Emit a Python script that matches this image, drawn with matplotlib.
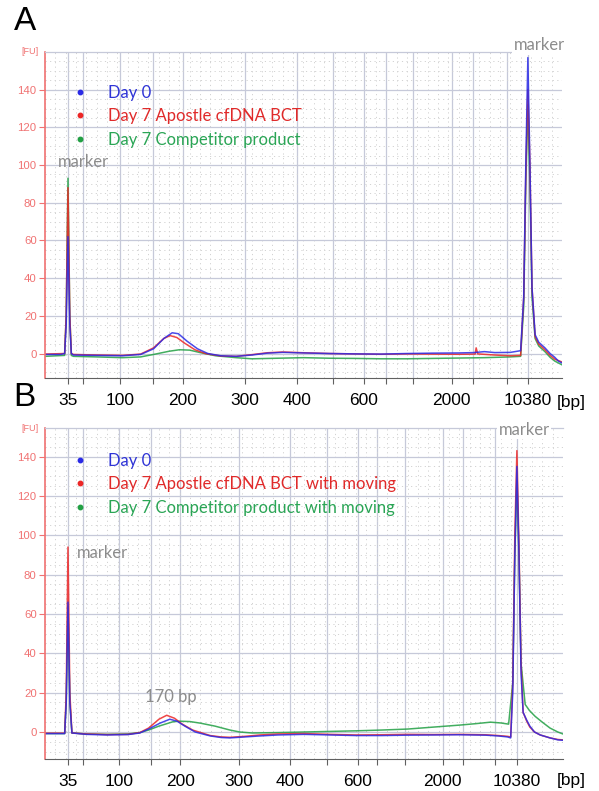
import matplotlib.pyplot as plt
from matplotlib.lines import Line2D
from matplotlib.ticker import MultipleLocator

plt.rcParams['font.family'] = ['Lato', 'DejaVu Sans']

# ladder peaks (bp) and where they sit on the migration axis of each run
ladder_bp = [35, 50, 100, 150, 200, 300, 400, 500, 600, 700, 1000, 2000, 3000, 7000, 10380]
shown_bp = [35, 100, 200, 300, 400, 600, 2000, 10380]
ladder_pos_a = [4.45, 7.35, 14.5, 20.9, 26.7, 38.7, 48.7, 55.7, 61.7, 66.0, 71.2, 78.7, 82.8, 89.4, 93.4]
ladder_pos_b = [4.44, 7.34, 14.3, 20.5, 26.1, 37.5, 47.3, 54.4, 60.4, 64.1, 69.5, 76.8, 80.7, 86.9, 91.1]
fu_ticks = [0, 20, 40, 60, 80, 100, 120, 140]

labels_a = ["Day 0", "Day 7 Apostle cfDNA BCT", "Day 7 Competitor product"]
labels_b = ["Day 0", "Day 7 Apostle cfDNA BCT with moving", "Day 7 Competitor product with moving"]

# panel A traces (migration position, FU)
day0_a_x = [0, 3.0, 3.8, 4.1, 4.45, 4.8, 5.1, 5.5, 10, 15, 18.5, 21, 23, 24.6, 25.8, 27.5, 29.5, 31.5, 34,
            37, 40, 43, 46, 50, 55, 60, 65, 70, 75, 80, 83, 85, 87, 90, 92.0, 92.6, 93.0, 93.4, 93.8,
            94.2, 94.8, 95.5, 96.7, 97.7, 98.6, 99.3, 100]
day0_a_y = [-0.5, -0.5, 0, 15, 62, 15, 0, -0.8, -1, -1.2, -0.5, 2.5, 8, 11, 10.5, 6.5, 2.5, 0, -1.2,
            -1.5, -0.8, 0.2, 0.6, 0.3, 0, -0.2, -0.3, 0, 0.2, 0.3, 0.5, 1, 0.5, 0.6, 1.5, 30, 100, 157, 100,
            35, 10, 6, 3, 0, -2, -4, -5]
apostle_a_x = [0, 3.8, 4.1, 4.45, 4.8, 5.1, 5.5, 10, 15, 18.5, 21, 23, 24.2, 25.5, 27, 29, 31, 34, 37,
               40, 43, 46, 50, 55, 60, 65, 70, 75, 80, 83.2, 83.4, 83.7, 87, 90, 92.0, 92.6, 93.0, 93.4,
               93.8, 94.2, 94.8, 95.5, 96.7, 97.7, 98.6, 100]
apostle_a_y = [-0.3, 0, 20, 88, 20, 0, -0.5, -0.8, -1, -0.3, 3, 8, 9.5, 8.5, 5.5, 2, 0, -1.3, -1.5,
               -0.6, 0.4, 0.8, 0.4, 0, -0.2, -0.4, -0.2, -0.3, -0.4, -0.3, 3, -0.2, -0.8, -1.2, -1, 30, 95,
               140, 100, 35, 9, 5, 2, -1, -3, -4.5]
competitor_a_x = [0, 3.8, 4.1, 4.45, 4.8, 5.1, 5.5, 10, 15, 18.5, 21, 24, 26, 28, 30, 33, 37, 40, 45,
                  50, 55, 60, 65, 70, 75, 80, 85, 90, 92.0, 92.6, 93.0, 93.4, 93.8, 94.2, 94.8, 95.5,
                  96.7, 97.7, 98.6, 100]
competitor_a_y = [-1.5, -1, 20, 93, 20, -1, -1.5, -1.8, -2.2, -1.8, -0.5, 1.2, 2, 1.8, 0.5, -1.2, -2.2,
                  -2.8, -2.5, -2.2, -2.5, -2.6, -2.8, -2.8, -2.6, -2.4, -2.2, -1.8, -1.5, 25, 90, 132, 90,
                  30, 8, 4, 1, -2, -4, -6]

# panel B traces
day0_b_x = [0, 3.8, 4.1, 4.44, 4.8, 5.2, 8, 12, 16, 18.3, 20, 22.2, 24.1, 25.5, 27, 29, 31.9, 34, 35.7,
            38.6, 41.5, 45, 50, 55, 60, 65, 70, 75, 80, 85, 87.5, 89.3, 89.9, 90.3, 90.7, 91.1, 91.5,
            91.9, 92.3, 93.0, 93.6, 94.5, 95.6, 97.5, 99, 100]
day0_b_y = [-0.8, -0.8, 15, 66, 15, -0.5, -1.2, -1.5, -1.3, -0.5, 1.5, 4.5, 6.5, 5.5, 3, 0, -2, -2.8, -3,
            -2.5, -2, -1.5, -1.2, -1.5, -1.8, -1.8, -1.6, -1.5, -1.4, -1.6, -2, -2.5, -3, 20, 90, 135,
            90, 30, 10, 6, 3, 0, -1.5, -3, -4, -4.2]
apostle_b_x = [0, 3.8, 4.1, 4.44, 4.8, 5.2, 8, 12, 16, 18.3, 20, 22, 23.5, 25, 26.5, 28.5, 31.9, 34, 35.7,
               38.6, 41.5, 45, 50, 55, 60, 65, 70, 75, 80, 85, 87.5, 89.3, 89.9, 90.3, 90.7, 91.1, 91.5,
               91.9, 92.3, 93.0, 93.6, 94.5, 95.6, 97.5, 99, 100]
apostle_b_y = [-0.6, -0.6, 20, 94, 20, -0.5, -1, -1.3, -1.2, -0.3, 2, 6.5, 8.5, 7, 4, 1, -1.8, -2.5, -2.7,
               -2.2, -1.5, -1, -0.8, -1.2, -1.5, -1.4, -1.2, -1.3, -1.2, -1.4, -1.8, -2.2, -2.5, 25, 100,
               143, 95, 35, 10, 5.5, 2.5, 0, -1.5, -3, -3.8, -4]
competitor_b_x = [0, 3.8, 4.1, 4.44, 4.8, 5.2, 8, 12, 16, 18.3, 20, 22, 24.7, 26, 28, 30, 32.8, 35.7, 37.6,
                  40, 45, 50, 55, 60, 65, 70, 75, 80, 83, 86, 88, 89.5, 90.3, 90.7, 91.1, 91.5, 91.9,
                  92.7, 93.5, 94.6, 96, 97.5, 99, 100]
competitor_b_y = [-0.8, -0.8, 15, 64, 15, -0.5, -1, -1.2, -1, -0.3, 1, 3, 5.2, 5.5, 5.3, 4.5, 3, 1, 0,
                  -0.5, -0.3, 0, 0.3, 0.6, 1, 1.5, 2.5, 3.5, 4.2, 5, 4.6, 4, 25, 90, 128, 90, 35, 14, 11,
                  8, 5, 2, 0, -1]

line_colors = ["#2a2ae6", "#ec2626", "#22a044"]
text_colors = ["#2f34d6", "#e02a2a", "#2aa555"]
axis_red = "#f07272"
grid_col = "#c6c9d9"
grey_text = "#8c8c8c"
arial = ["Liberation Sans", "DejaVu Sans"]


def draw_panel(ax, ladder_pos, traces, labels, ylim, legend_anchor):
    ax.set_xlim(0, 100)
    ax.set_ylim(*ylim)

    # grid: solid at ladder peaks / every 20 FU, dotted in between
    ax.set_xticks(ladder_pos, [str(b) if b in shown_bp else "" for b in ladder_bp])
    ax.set_yticks(fu_ticks)
    ax.xaxis.set_minor_locator(MultipleLocator(2))
    ax.yaxis.set_minor_locator(MultipleLocator(5))
    ax.grid(True, which="major", color=grid_col, lw=0.9)
    ax.grid(True, which="minor", color="#d2d2d2", lw=0.7, ls=(0, (1.2, 3.5)))
    ax.set_axisbelow(True)

    # competitor first so day 0 / apostle sit on top
    for i in [2, 1, 0]:
        xs, ys = traces[i]
        ax.plot(xs, ys, color=line_colors[i], lw=1.1, alpha=0.85)

    ax.spines["right"].set_visible(False)
    ax.spines["top"].set_color(grid_col)
    ax.spines["top"].set_linewidth(0.9)
    ax.spines["left"].set_color(axis_red)
    ax.spines["left"].set_linewidth(1.2)
    ax.spines["bottom"].set_color("#606060")

    ax.tick_params(axis="x", which="major", length=4, color="#606060", labelsize=12.5, pad=7)
    ax.tick_params(axis="x", which="minor", length=0)
    ax.tick_params(axis="y", which="major", length=4, color=axis_red, labelcolor=axis_red,
                   labelsize=8.2, pad=2)
    ax.tick_params(axis="y", which="minor", length=0)
    for t in ax.get_xticklabels() + ax.get_yticklabels():
        t.set_family(arial)

    ax.text(-0.012, 1.0, "[FU]", transform=ax.transAxes, ha="right", va="center",
            fontsize=6.5, color=axis_red, family=arial)

    handles = [Line2D([], [], ls="", marker="o", markersize=3.2, color=c) for c in line_colors]
    leg = ax.legend(handles, labels, loc="upper left", bbox_to_anchor=legend_anchor, frameon=False,
                    fontsize=12, handlelength=1.0, handletextpad=1.15, labelspacing=0.45,
                    borderaxespad=0, borderpad=0)
    for t, c in zip(leg.get_texts(), text_colors):
        t.set_color(c)


fig = plt.figure(figsize=(5.99, 7.91), dpi=100)
ax_a = fig.add_axes([0.0751, 0.5221, 0.8631, 0.4122])
ax_b = fig.add_axes([0.0751, 0.0405, 0.8648, 0.4184])

draw_panel(ax_a, ladder_pos_a,
           [(day0_a_x, day0_a_y), (apostle_a_x, apostle_a_y), (competitor_a_x, competitor_a_y)],
           labels_a, (-13, 160), (0.052, 0.9))
draw_panel(ax_b, ladder_pos_b,
           [(day0_b_x, day0_b_y), (apostle_b_x, apostle_b_y), (competitor_b_x, competitor_b_y)],
           labels_b, (-13.7, 154.5), (0.052, 0.925))

marker_box = dict(facecolor="white", edgecolor="none", pad=1.0)
ax_a.text(2.5, 101.8, "marker", color=grey_text, fontsize=12, ha="left", va="center")
ax_a.text(95.6, 163.5, "marker", color=grey_text, fontsize=12, ha="center", va="center",
          clip_on=False, bbox=marker_box)
ax_b.text(6.2, 91, "marker", color=grey_text, fontsize=12, ha="left", va="center")
ax_b.text(92.5, 153.7, "marker", color=grey_text, fontsize=12, ha="center", va="center",
          clip_on=False, bbox=marker_box)
ax_b.text(24.3, 17.8, "170 bp", color=grey_text, fontsize=12, ha="center", va="center")

# panel letters and axis unit
fig.text(25 / 599, 1 - 21 / 791, "A", fontsize=24, ha="center", va="center", family=arial)
fig.text(24 / 599, 1 - 398 / 791, "B", fontsize=24, ha="center", va="center", family=arial)
for y in [402, 780]:
    fig.text(571 / 599, 1 - y / 791, "[bp]", fontsize=12.5, ha="center", va="center", family=arial)

fig.savefig("out.png", dpi=100)
